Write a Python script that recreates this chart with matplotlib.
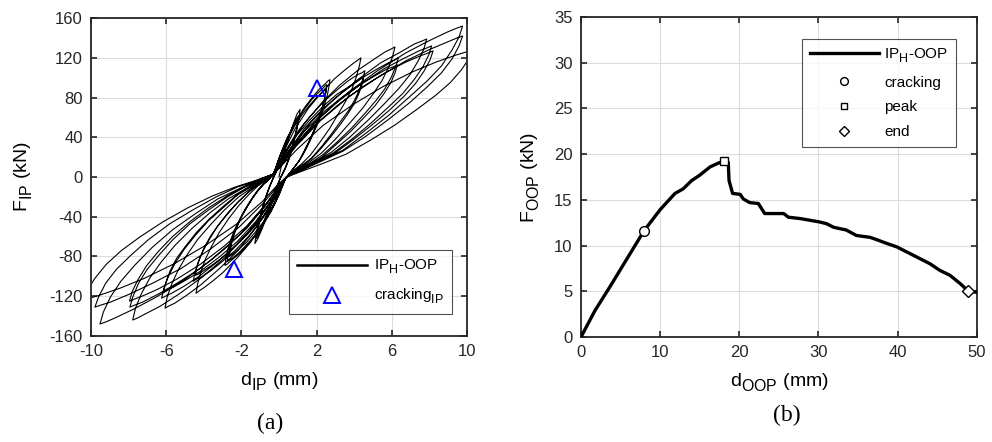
import numpy as np
import matplotlib
matplotlib.use('Agg')
import matplotlib.pyplot as plt
import matplotlib._mathtext as mtext

plt.rcParams['font.family'] = ['Liberation Sans', 'DejaVu Sans']
plt.rcParams['mathtext.fontset'] = 'custom'
plt.rcParams['mathtext.rm'] = 'Liberation Sans'
plt.rcParams['mathtext.it'] = 'Liberation Sans:italic'
plt.rcParams['mathtext.bf'] = 'Liberation Sans:bold'
plt.rcParams['axes.unicode_minus'] = False
# MATLAB-like subscripts: bigger and lower than the mathtext default
mtext.SHRINK_FACTOR = 0.82
mtext.FontConstantsBase.sub1 = 0.55

# ---------------- (a) in-plane hysteresis, path (d mm, F kN) ----------------
hyst_1mm = [
    (0.0, 0), (0.35, 30), (0.7, 50), (0.95, 63), (1.12, 68), (1.08, 60), (0.95, 48), (0.75, 33), (0.55, 20),
    (0.35, 10), (0.2, 4), (0.1, 0), (-0.15, -12), (-0.5, -33), (-0.85, -50), (-1.12, -62), (-1.28, -67),
    (-1.22, -58), (-1.08, -46), (-0.9, -32), (-0.7, -20), (-0.5, -10), (-0.35, -3), (-0.2, 3),
    (0.02, 12), (0.33, 31), (0.66, 48), (0.9, 58), (1.05, 62), (1.01, 55), (0.9, 44), (0.72, 30), (0.53, 18),
    (0.34, 9), (0.2, 4), (0.1, 0), (-0.14, -11), (-0.47, -30), (-0.8, -46), (-1.05, -57), (-1.2, -62),
    (-1.15, -54), (-1.02, -43), (-0.85, -30), (-0.66, -18), (-0.48, -9), (-0.34, -3), (-0.2, 3),
    (0.03, 11), (0.32, 29), (0.63, 45), (0.86, 54), (1.0, 58), (0.96, 51), (0.86, 41), (0.69, 28), (0.51, 17),
    (0.33, 8), (0.2, 3), (0.1, 0), (-0.13, -10), (-0.45, -28), (-0.77, -43), (-1.0, -53), (-1.15, -58),
    (-1.1, -51), (-0.98, -40), (-0.82, -28), (-0.64, -17), (-0.47, -8), (-0.33, -2), (-0.3, 3),
]
hyst_3mm = [
    (-0.18, 9), (0.06, 22), (0.45, 40), (0.90, 56), (1.36, 70), (1.81, 81), (2.17, 89), (2.47, 94), (2.62, 97),
    (2.71, 98), (2.66, 91), (2.57, 82), (2.43, 73), (2.25, 63), (2.02, 52), (1.74, 40), (1.44, 28), (1.14, 18),
    (0.86, 11), (0.63, 5), (0.4, 0),
    (0.27, -5), (0.01, -18), (-0.42, -35), (-0.91, -50), (-1.40, -62), (-1.89, -73), (-2.28, -80), (-2.61, -85),
    (-2.77, -88), (-2.87, -89), (-2.82, -82), (-2.72, -73), (-2.56, -63), (-2.36, -53), (-2.10, -43), (-1.79, -32),
    (-1.46, -22), (-1.12, -13), (-0.81, -7), (-0.56, -3), (-0.3, 3),
    (-0.19, 8), (0.04, 21), (0.41, 38), (0.84, 53), (1.27, 66), (1.70, 77), (2.04, 84), (2.32, 89), (2.47, 92),
    (2.55, 93), (2.51, 86), (2.42, 78), (2.29, 69), (2.12, 60), (1.91, 49), (1.65, 38), (1.37, 27), (1.09, 17),
    (0.83, 10), (0.62, 5), (0.4, 0),
    (0.27, -5), (0.02, -17), (-0.39, -33), (-0.86, -48), (-1.33, -60), (-1.81, -70), (-2.18, -77), (-2.50, -82),
    (-2.66, -84), (-2.75, -85), (-2.70, -78), (-2.60, -70), (-2.46, -60), (-2.26, -51), (-2.02, -41), (-1.72, -31),
    (-1.40, -21), (-1.08, -13), (-0.79, -7), (-0.55, -3), (-0.3, 3),
    (-0.19, 8), (0.04, 20), (0.40, 36), (0.82, 51), (1.24, 63), (1.66, 73), (2.00, 80), (2.28, 85), (2.42, 87),
    (2.5, 88), (2.46, 82), (2.37, 74), (2.25, 65), (2.08, 56), (1.87, 47), (1.62, 36), (1.35, 26), (1.07, 16),
    (0.82, 10), (0.61, 5), (0.4, 0),
    (0.28, -5), (0.03, -16), (-0.36, -31), (-0.82, -45), (-1.28, -56), (-1.74, -66), (-2.10, -72), (-2.41, -77),
    (-2.56, -79), (-2.65, -80), (-2.60, -74), (-2.51, -66), (-2.37, -57), (-2.18, -48), (-1.95, -38), (-1.66, -29),
    (-1.36, -20), (-1.05, -12), (-0.77, -6), (-0.54, -2), (-0.3, 3),
]
hyst_4mm = [
    (-0.11, 10), (0.26, 26), (0.87, 49), (1.56, 69), (2.26, 85), (2.96, 99), (3.52, 108), (3.99, 115), (4.22, 118),
    (4.36, 120), (4.28, 112), (4.12, 101), (3.89, 89), (3.57, 77), (3.17, 64), (2.70, 49), (2.18, 35), (1.67, 22),
    (1.19, 13), (0.80, 7), (0.4, 0),
    (0.21, -7), (-0.18, -23), (-0.80, -46), (-1.52, -66), (-2.25, -82), (-2.97, -96), (-3.54, -105), (-4.03, -112),
    (-4.27, -115), (-4.41, -117), (-4.33, -108), (-4.16, -96), (-3.92, -83), (-3.59, -70), (-3.18, -56),
    (-2.68, -42), (-2.15, -29), (-1.62, -18), (-1.12, -9), (-0.71, -4), (-0.3, 3),
    (-0.11, 9), (0.28, 24), (0.92, 44), (1.65, 61), (2.38, 76), (3.11, 88), (3.69, 97), (4.18, 103), (4.42, 105),
    (4.57, 107), (4.49, 100), (4.32, 90), (4.07, 79), (3.74, 68), (3.32, 57), (2.82, 44), (2.28, 31), (1.73, 19),
    (1.23, 12), (0.82, 6), (0.4, 0),
    (0.20, -6), (-0.20, -21), (-0.84, -41), (-1.58, -59), (-2.33, -74), (-3.07, -86), (-3.67, -95), (-4.16, -101),
    (-4.41, -103), (-4.56, -105), (-4.48, -97), (-4.30, -86), (-4.05, -75), (-3.71, -63), (-3.28, -50),
    (-2.77, -38), (-2.22, -26), (-1.66, -16), (-1.15, -8), (-0.73, -3), (-0.3, 3),
    (-0.11, 9), (0.28, 22), (0.90, 41), (1.62, 57), (2.34, 71), (3.06, 83), (3.64, 90), (4.12, 96), (4.36, 99),
    (4.5, 100), (4.42, 93), (4.25, 84), (4.01, 74), (3.68, 64), (3.27, 53), (2.78, 41), (2.25, 29), (1.71, 18),
    (1.22, 11), (0.81, 6), (0.4, 0),
    (0.21, -6), (-0.18, -20), (-0.81, -39), (-1.54, -55), (-2.27, -69), (-3.00, -81), (-3.58, -89), (-4.06, -95),
    (-4.31, -98), (-4.45, -99), (-4.37, -91), (-4.20, -81), (-3.95, -70), (-3.62, -59), (-3.21, -48),
    (-2.71, -36), (-2.17, -25), (-1.63, -15), (-1.13, -8), (-0.72, -3), (-0.3, 3),
]
hyst_6mm = [
    (-0.04, 11), (0.48, 29), (1.32, 53), (2.29, 75), (3.26, 93), (4.23, 108), (5.01, 118), (5.65, 126), (5.98, 129),
    (6.17, 131), (6.06, 122), (5.82, 110), (5.48, 97), (5.02, 84), (4.44, 69), (3.75, 54), (3.00, 38), (2.25, 24),
    (1.55, 14), (0.98, 7), (0.4, 0),
    (0.14, -8), (-0.38, -26), (-1.22, -51), (-2.18, -74), (-3.15, -92), (-4.12, -108), (-4.90, -119), (-5.54, -127),
    (-5.87, -130), (-6.06, -132), (-5.95, -121), (-5.71, -108), (-5.37, -94), (-4.91, -79), (-4.33, -63),
    (-3.64, -48), (-2.89, -33), (-2.14, -20), (-1.45, -11), (-0.88, -4), (-0.3, 3),
    (-0.03, 10), (0.50, 26), (1.36, 49), (2.36, 69), (3.36, 85), (4.36, 99), (5.15, 108), (5.82, 115), (6.15, 118),
    (6.35, 120), (6.23, 112), (5.99, 101), (5.64, 89), (5.16, 77), (4.57, 64), (3.85, 49), (3.08, 35), (2.30, 22),
    (1.59, 13), (1.00, 7), (0.4, 0),
    (0.13, -7), (-0.40, -24), (-1.26, -48), (-2.26, -68), (-3.25, -85), (-4.25, -100), (-5.05, -110), (-5.71, -117),
    (-6.04, -120), (-6.24, -122), (-6.12, -112), (-5.88, -100), (-5.53, -87), (-5.05, -73), (-4.46, -59),
    (-3.75, -44), (-2.97, -31), (-2.20, -18), (-1.49, -10), (-0.89, -4), (-0.3, 3),
    (-0.04, 10), (0.49, 25), (1.35, 46), (2.34, 65), (3.33, 80), (4.32, 93), (5.11, 102), (5.77, 109), (6.10, 111),
    (6.3, 113), (6.18, 105), (5.95, 95), (5.59, 84), (5.12, 72), (4.53, 60), (3.82, 46), (3.06, 33), (2.29, 20),
    (1.58, 12), (0.99, 6), (0.4, 0),
    (0.14, -7), (-0.39, -23), (-1.24, -45), (-2.22, -65), (-3.20, -81), (-4.19, -95), (-4.97, -104), (-5.63, -111),
    (-5.95, -114), (-6.15, -116), (-6.03, -107), (-5.80, -95), (-5.45, -82), (-4.98, -70), (-4.40, -56),
    (-3.69, -42), (-2.93, -29), (-2.17, -17), (-1.47, -9), (-0.89, -3), (-0.3, 3),
]
hyst_8mm = [
    (0.03, 11), (0.68, 30), (1.74, 56), (2.96, 79), (4.19, 98), (5.41, 115), (6.39, 125), (7.21, 134), (7.62, 137),
    (7.86, 139), (7.71, 129), (7.41, 117), (6.97, 103), (6.37, 89), (5.62, 74), (4.73, 57), (3.76, 40), (2.79, 25),
    (1.89, 15), (1.15, 8), (0.4, 0),
    (0.07, -9), (-0.58, -29), (-1.65, -56), (-2.87, -81), (-4.10, -101), (-5.33, -118), (-6.31, -130), (-7.13, -138),
    (-7.53, -142), (-7.78, -144), (-7.63, -132), (-7.33, -118), (-6.88, -102), (-6.28, -86), (-5.54, -69),
    (-4.64, -52), (-3.67, -36), (-2.69, -22), (-1.80, -12), (-1.05, -4), (-0.3, 3),
    (0.04, 11), (0.71, 29), (1.81, 53), (3.07, 75), (4.33, 93), (5.59, 109), (6.60, 119), (7.45, 127), (7.87, 130),
    (8.12, 132), (7.97, 123), (7.66, 111), (7.19, 98), (6.58, 84), (5.80, 70), (4.88, 54), (3.87, 38), (2.87, 24),
    (1.94, 15), (1.17, 7), (0.4, 0),
    (0.07, -8), (-0.60, -26), (-1.68, -51), (-2.93, -73), (-4.18, -92), (-5.43, -107), (-6.43, -118), (-7.26, -126),
    (-7.68, -129), (-7.93, -131), (-7.78, -121), (-7.47, -107), (-7.01, -93), (-6.40, -79), (-5.64, -63),
    (-4.73, -47), (-3.73, -33), (-2.74, -20), (-1.83, -10), (-1.06, -4), (-0.3, 3),
    (0.04, 10), (0.72, 28), (1.83, 51), (3.10, 72), (4.38, 90), (5.65, 105), (6.67, 115), (7.52, 122), (7.95, 125),
    (8.2, 127), (8.04, 118), (7.73, 107), (7.26, 94), (6.64, 81), (5.86, 67), (4.92, 52), (3.91, 37), (2.90, 23),
    (1.96, 14), (1.18, 7), (0.4, 0),
    (0.07, -8), (-0.60, -25), (-1.69, -49), (-2.94, -70), (-4.19, -88), (-5.45, -103), (-6.45, -113), (-7.28, -120),
    (-7.70, -123), (-7.95, -125), (-7.80, -115), (-7.49, -103), (-7.03, -89), (-6.42, -75), (-5.66, -60),
    (-4.74, -45), (-3.74, -31), (-2.75, -19), (-1.83, -10), (-1.07, -4), (-0.3, 3),
]
hyst_10mm = [
    (0.10, 12), (0.91, 33), (2.22, 61), (3.73, 86), (5.24, 107), (6.75, 125), (7.96, 137), (8.96, 146), (9.47, 150),
    (9.77, 152), (9.58, 141), (9.21, 128), (8.65, 112), (7.90, 97), (6.96, 81), (5.83, 62), (4.62, 44), (3.40, 27),
    (2.27, 17), (1.34, 8), (0.4, 0),
    (0.00, -9), (-0.79, -30), (-2.08, -58), (-3.57, -83), (-5.06, -104), (-6.54, -121), (-7.73, -133), (-8.73, -142),
    (-9.22, -146), (-9.52, -148), (-9.34, -136), (-8.97, -121), (-8.41, -105), (-7.68, -89), (-6.75, -71),
    (-5.65, -53), (-4.45, -37), (-3.25, -22), (-2.14, -12), (-1.22, -4), (-0.3, 3),
    (0.10, 11), (0.91, 31), (2.22, 57), (3.73, 81), (5.24, 100), (6.75, 117), (7.96, 128), (8.96, 136), (9.47, 140),
    (9.77, 142), (9.58, 132), (9.21, 119), (8.65, 105), (7.90, 91), (6.96, 75), (5.83, 58), (4.62, 41), (3.40, 26),
    (2.27, 16), (1.34, 8), (0.4, 0),
    (-0.01, -8), (-0.82, -26), (-2.15, -51), (-3.68, -73), (-5.20, -92), (-6.73, -107), (-7.96, -118), (-8.97, -126),
    (-9.48, -129), (-9.79, -131), (-9.60, -121), (-9.22, -107), (-8.65, -93), (-7.89, -79), (-6.94, -63),
    (-5.80, -47), (-4.57, -33), (-3.34, -20), (-2.20, -10), (-1.25, -4), (-0.3, 3),
    (0.12, 11), (0.97, 28), (2.35, 52), (3.94, 73), (5.53, 91), (7.12, 106), (8.39, 116), (9.45, 123), (9.98, 126),
    (10.3, 128), (10.10, 119), (9.71, 108), (9.11, 95), (8.32, 82), (7.33, 68), (6.14, 52), (4.86, 37), (3.57, 23),
    (2.38, 14), (1.39, 7), (0.4, 0),
    (-0.03, -7), (-0.90, -25), (-2.30, -48), (-3.92, -69), (-5.54, -87), (-7.16, -102), (-8.46, -112), (-9.54, -119),
    (-10.08, -122), (-10.4, -124), (-10.20, -114), (-9.79, -102), (-9.19, -88), (-8.38, -74), (-7.37, -60),
    (-6.16, -45), (-4.85, -31), (-3.53, -19), (-2.32, -10), (-1.31, -4), (-0.3, 3),
]
crack_ip_d = [2.0, -2.4]
crack_ip_f = [90, -93]

# ---------------- (b) out-of-plane push-over ----------------
d_oop = [0, 1.77, 3.66, 6.19, 7.95, 9.97, 11.87, 12.9, 13.97, 15.0, 16.3, 17.3, 17.97, 18.6, 18.7, 19.15,
         20.1, 20.5, 21.3, 22.4, 23.2, 25.6, 26.2, 27.7, 30.0, 31.0, 31.9, 33.5, 34.8, 36.5, 37.5, 38.4,
         39.9, 42.4, 44.1, 45.3, 46.6, 47.9, 48.9, 49.9]
f_oop = [0, 2.9, 5.5, 9.1, 11.6, 13.9, 15.7, 16.2, 17.1, 17.7, 18.6, 19.0, 19.2, 19.1, 17.1, 15.7,
         15.6, 15.1, 14.7, 14.6, 13.5, 13.5, 13.1, 12.95, 12.6, 12.4, 12.0, 11.7, 11.1, 10.9, 10.6, 10.3,
         9.85, 8.75, 8.0, 7.3, 6.75, 5.84, 5.03, 4.9]
crack_oop = (7.95, 11.6)
peak_oop = (18.0, 19.2)
end_oop = (48.9, 5.03)

ip_ticks_x = [-10, -6, -2, 2, 6, 10]
ip_ticks_y = [-160, -120, -80, -40, 0, 40, 80, 120, 160]
oop_ticks_x = [0, 10, 20, 30, 40, 50]
oop_ticks_y = [0, 5, 10, 15, 20, 25, 30, 35]


def style_axes(ax):
    ax.grid(True, color='#dcdcdc', linewidth=0.8)
    ax.set_axisbelow(True)
    for s in ax.spines.values():
        s.set_linewidth(1.3)
        s.set_color('#262626')
    ax.tick_params(direction='in', top=True, right=True, length=4, width=1.2,
                   colors='#262626', labelsize=12, pad=6)


fig = plt.figure(figsize=(9.92, 4.42), dpi=100)
fig.patch.set_facecolor('white')

# (a)
ax1 = fig.add_axes([0.0917, 0.240, 0.379, 0.719])
path = np.array(hyst_1mm + hyst_3mm + hyst_4mm + hyst_6mm + hyst_8mm + hyst_10mm, dtype=float)
ax1.plot(path[:, 0], path[:, 1], color='black', linewidth=0.8, label=r'IP$_{\rm H}$-OOP')
ax1.plot(crack_ip_d, crack_ip_f, linestyle='none', marker='^', markersize=11, markerfacecolor='none',
         markeredgecolor='#0000ff', markeredgewidth=1.4, label=r'cracking$_{\rm IP}$')
ax1.set_xlim(-10, 10)
ax1.set_ylim(-160, 160)
ax1.set_xticks(ip_ticks_x)
ax1.set_yticks(ip_ticks_y)
style_axes(ax1)
ax1.set_xlabel(r'd$_{\rm IP}$ (mm)', fontsize=14, labelpad=8)
ax1.set_ylabel(r'F$_{\rm IP}$ (kN)', fontsize=14, labelpad=10)
leg1 = ax1.legend(loc='lower right', bbox_to_anchor=(0.96, 0.069), borderaxespad=0, fontsize=11,
                  frameon=True, fancybox=False, edgecolor='#262626', handlelength=4.6, handletextpad=0.45,
                  borderpad=0.5, labelspacing=0.7)
leg1.get_frame().set_linewidth(0.8)
leg1.get_lines()[0].set_linewidth(1.8)

# (b)
ax2 = fig.add_axes([0.5857, 0.2376, 0.399, 0.724])
ax2.plot(d_oop, f_oop, color='black', linewidth=2.4, label=r'IP$_{\rm H}$-OOP', zorder=3)
ax2.plot(*crack_oop, linestyle='none', marker='o', markersize=7, markerfacecolor='white',
         markeredgecolor='black', markeredgewidth=1.0, label='cracking', zorder=4)
ax2.plot(*peak_oop, linestyle='none', marker='s', markersize=6, markerfacecolor='white',
         markeredgecolor='black', markeredgewidth=1.0, label='peak', zorder=4)
ax2.plot(*end_oop, linestyle='none', marker='D', markersize=6, markerfacecolor='white',
         markeredgecolor='black', markeredgewidth=1.0, label='end', zorder=4)
ax2.set_xlim(0, 50)
ax2.set_ylim(0, 35)
ax2.set_xticks(oop_ticks_x)
ax2.set_yticks(oop_ticks_y)
style_axes(ax2)
ax2.set_xlabel(r'd$_{\rm OOP}$ (mm)', fontsize=14, labelpad=8)
ax2.set_ylabel(r'F$_{\rm OOP}$ (kN)', fontsize=14, labelpad=9)
leg2 = ax2.legend(loc='upper right', bbox_to_anchor=(0.947, 0.931), borderaxespad=0, fontsize=11,
                  frameon=True, fancybox=False, edgecolor='#262626', handlelength=4.5, handletextpad=0.35,
                  borderpad=0.5, labelspacing=0.7, markerscale=0.8)
leg2.get_frame().set_linewidth(0.8)

fig.text(0.272, 0.043, '(a)', family=['Liberation Serif', 'DejaVu Serif'], fontsize=17, ha='center', va='center')
fig.text(0.793, 0.061, '(b)', family=['Liberation Serif', 'DejaVu Serif'], fontsize=17, ha='center', va='center')

fig.savefig('out.png', dpi=100, facecolor='white')
